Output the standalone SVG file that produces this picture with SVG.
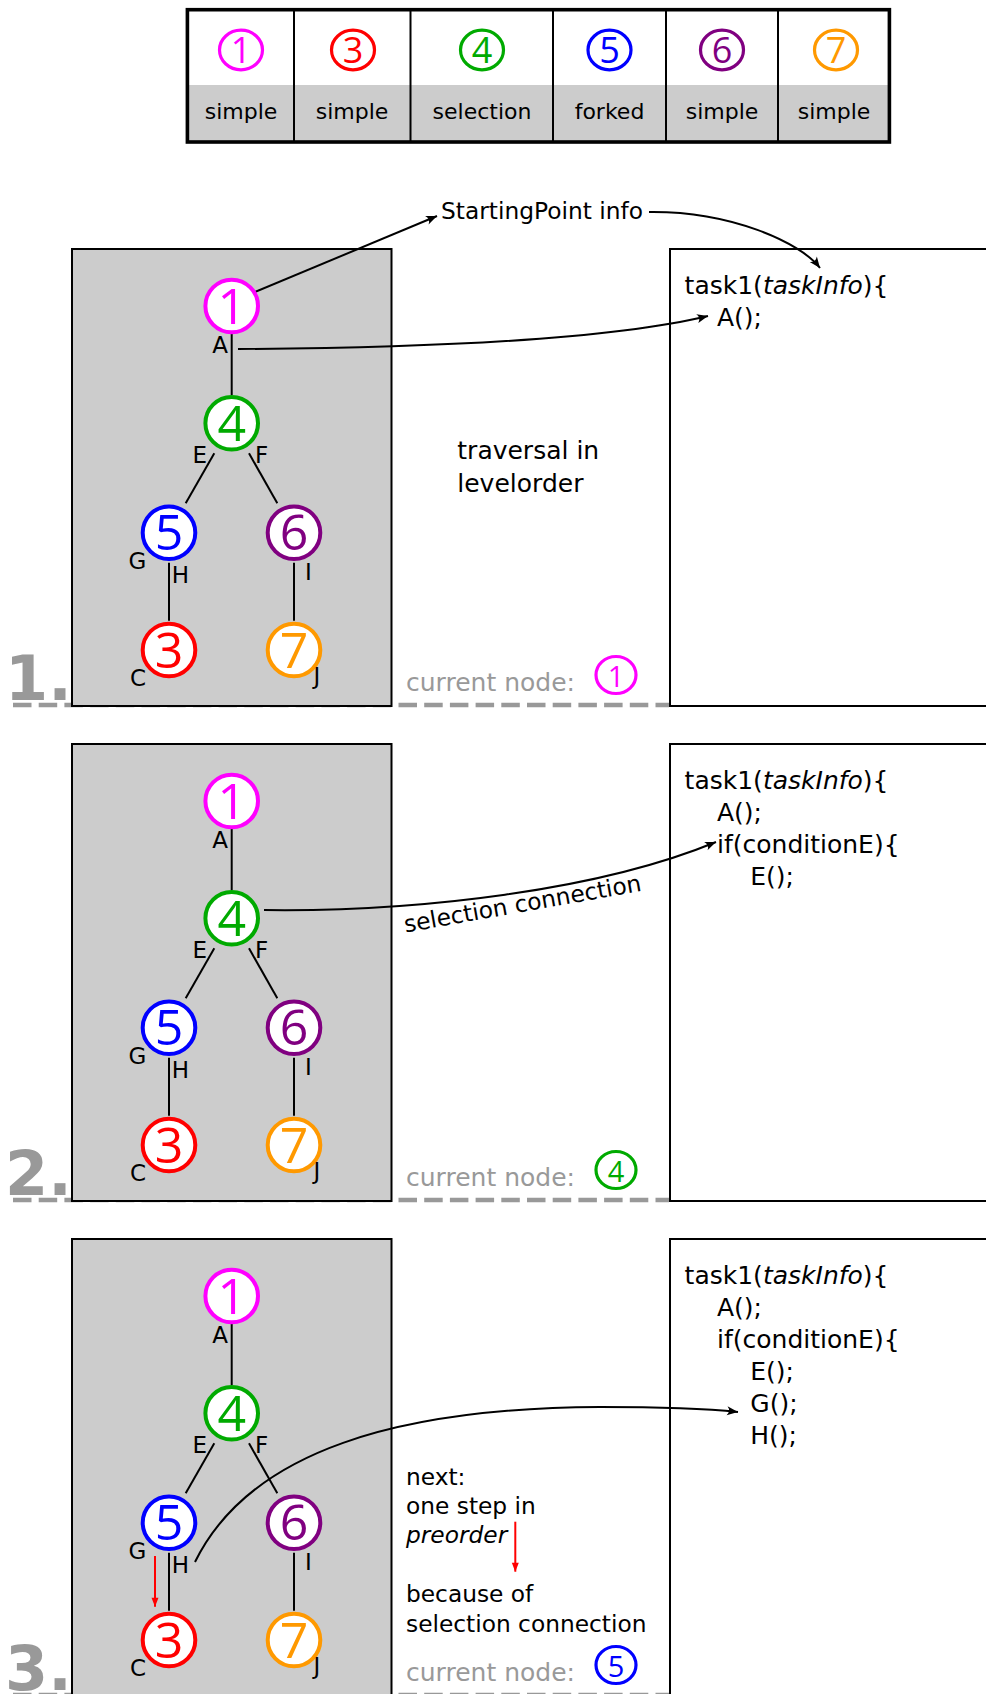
<svg xmlns="http://www.w3.org/2000/svg" width="986" height="1694" viewBox="0 0 986 1694">
<style>
  text { font-family: "DejaVu Sans", "Liberation Sans", sans-serif; fill: #000; }
  .lbl { font-size: 23px; text-anchor: middle; }
  .code { font-size: 25px; }
  .note { font-size: 25px; }
  .small { font-size: 23.3px; }
  .cur { font-size: 25px; fill: #999; }
  .step { font-size: 62px; font-weight: bold; fill: #999; }
  .cell { font-size: 22px; text-anchor: middle; }
  .dig { font-family: "Open Sans", "Liberation Sans", sans-serif; font-size: 50px; text-anchor: middle; }
  .idig { font-family: "Open Sans", "Liberation Sans", sans-serif; text-anchor: middle; }
  .ring { fill: #fff; stroke-width: 4; }
  .iring { fill: none; stroke-width: 3.2; }
  .edge { stroke: #000; stroke-width: 2; fill: none; }
  .arrow { stroke: #000; stroke-width: 2; fill: none; marker-end: url(#ah); }
  .red { stroke: #f00; stroke-width: 2; fill: none; marker-end: url(#rh); }
  .panel { fill: #ccc; stroke: #000; stroke-width: 2; }
  .codebox { fill: #fff; stroke: #000; stroke-width: 2; }
  .dash { stroke: #999; stroke-width: 4.5; stroke-dasharray: 18.5 7.2; fill: none; }
  .it { font-style: italic; }
  .mag { stroke: #ff00ff; } .mag-t { fill: #ff00ff; }
  .rd { stroke: #ff0000; } .rd-t { fill: #ff0000; }
  .gr { stroke: #00aa00; } .gr-t { fill: #00aa00; }
  .bl { stroke: #0000ff; } .bl-t { fill: #0000ff; }
  .pu { stroke: #800080; } .pu-t { fill: #800080; }
  .or { stroke: #ff9900; } .or-t { fill: #ff9900; }
</style>
<defs>
  <marker id="ah" markerUnits="userSpaceOnUse" markerWidth="14" markerHeight="12" viewBox="-12 -6 14 12" refX="0" refY="0" orient="auto" overflow="visible">
    <path d="M0,0 L-11,-4.5 Q-7,0 -11,4.5 Z" fill="#000"/>
  </marker>
  <marker id="rh" markerUnits="userSpaceOnUse" markerWidth="12" markerHeight="10" viewBox="-10 -5 11 10" refX="0" refY="0" orient="auto" overflow="visible">
    <path d="M0,0 L-9,-3.5 L-9,3.5 Z" fill="#f00"/>
  </marker>
</defs>

<rect width="986" height="1694" fill="#fff"/>

<!-- legend table: node kinds -->
<g id="legend">
  <rect x="187.4" y="85" width="702" height="57" fill="#ccc"/>
  <g stroke="#000" stroke-width="2">
    <line x1="294" y1="9.7" x2="294" y2="142"/>
    <line x1="410.5" y1="9.7" x2="410.5" y2="142"/>
    <line x1="553" y1="9.7" x2="553" y2="142"/>
    <line x1="666" y1="9.7" x2="666" y2="142"/>
    <line x1="778" y1="9.7" x2="778" y2="142"/>
  </g>
  <rect x="187.4" y="9.7" width="702" height="132.3" fill="none" stroke="#000" stroke-width="3.6"/>
  <g id="legend-1"><ellipse cx="241" cy="50" rx="21.5" ry="19.8" class="iring mag"/><text x="241" y="63" class="idig mag-t" font-size="36">1</text><text x="241" y="119" class="cell">simple</text></g>
  <g id="legend-3"><ellipse cx="353" cy="50" rx="21.5" ry="19.8" class="iring rd"/><text x="353" y="63" class="idig rd-t" font-size="36">3</text><text x="352" y="119" class="cell">simple</text></g>
  <g id="legend-4"><ellipse cx="482" cy="50" rx="21.5" ry="19.8" class="iring gr"/><text x="482" y="63" class="idig gr-t" font-size="36">4</text><text x="482" y="119" class="cell">selection</text></g>
  <g id="legend-5"><ellipse cx="609.5" cy="50" rx="21.5" ry="19.8" class="iring bl"/><text x="609.5" y="63" class="idig bl-t" font-size="36">5</text><text x="609.5" y="119" class="cell">forked</text></g>
  <g id="legend-6"><ellipse cx="722" cy="50" rx="21.5" ry="19.8" class="iring pu"/><text x="722" y="63" class="idig pu-t" font-size="36">6</text><text x="722" y="119" class="cell">simple</text></g>
  <g id="legend-7"><ellipse cx="836" cy="50" rx="21.5" ry="19.8" class="iring or"/><text x="836" y="63" class="idig or-t" font-size="36">7</text><text x="834" y="119" class="cell">simple</text></g>
</g>

<!-- step separators (under the boxes) -->
<g id="separators">
  <path class="dash" d="M13,705 H669"/>
  <path class="dash" d="M13,1200 H669"/>
  <path class="dash" d="M13,1695 H669"/>
</g>

<!-- step 1 -->
<g id="step1">
  <text x="5" y="700" class="step">1.</text>
  <rect id="tree-box-1" x="72" y="249" width="319.5" height="457" class="panel"/>
  <rect id="code-box-1" x="670" y="249" width="340" height="457" class="codebox"/>
  <text x="684.6" y="294" class="code">task1(<tspan class="it">taskInfo</tspan>){</text>
  <text x="717" y="326" class="code">A();</text>
  <text x="441" y="219.3" class="small" id="startingpoint">StartingPoint info</text>
  <text x="457.3" y="459.3" class="note">traversal in</text>
  <text x="457.3" y="491.7" class="note">levelorder</text>
  <text x="406" y="691" class="cur">current node:</text>
  <g id="cur-1"><ellipse cx="616" cy="675" rx="20" ry="18.5" class="iring mag"/><text x="616" y="687" class="idig mag-t" font-size="29">1</text></g>
</g>

<!-- step 2 -->
<g id="step2" transform="translate(0,495)">
  <text x="5" y="700" class="step">2.</text>
  <rect id="tree-box-2" x="72" y="249" width="319.5" height="457" class="panel"/>
  <rect id="code-box-2" x="670" y="249" width="340" height="457" class="codebox"/>
  <text x="684.6" y="294" class="code">task1(<tspan class="it">taskInfo</tspan>){</text>
  <text x="717" y="326" class="code">A();</text>
  <text x="717" y="358" class="code">if(conditionE){</text>
  <text x="750.3" y="390" class="code">E();</text>
  <text x="406" y="691" class="cur">current node:</text>
  <g id="cur-2"><ellipse cx="616" cy="675" rx="20" ry="18.5" class="iring gr"/><text x="616" y="687" class="idig gr-t" font-size="29">4</text></g>
</g>

<!-- step 3 -->
<g id="step3" transform="translate(0,990)">
  <text x="5" y="700" class="step">3.</text>
  <rect id="tree-box-3" x="72" y="249" width="319.5" height="457" class="panel"/>
  <rect id="code-box-3" x="670" y="249" width="340" height="457" class="codebox"/>
  <text x="684.6" y="294" class="code">task1(<tspan class="it">taskInfo</tspan>){</text>
  <text x="717" y="326" class="code">A();</text>
  <text x="717" y="358" class="code">if(conditionE){</text>
  <text x="750.3" y="390" class="code">E();</text>
  <text x="750.3" y="422" class="code">G();</text>
  <text x="750.3" y="454" class="code">H();</text>
  <text x="406" y="495" class="small">next:</text>
  <text x="406" y="524" class="small">one step in</text>
  <text x="406" y="553.3" class="small it">preorder</text>
  <text x="406" y="611.7" class="small">because of</text>
  <text x="406" y="641.7" class="small">selection connection</text>
  <text x="406" y="691" class="cur">current node:</text>
  <g id="cur-3"><ellipse cx="616" cy="675" rx="20" ry="18.5" class="iring bl"/><text x="616" y="687" class="idig bl-t" font-size="29">5</text></g>
</g>

<!-- edges and arrows -->
<g id="connectors">
  <g id="connectors-1">
    <line class="edge" x1="231.7" y1="334" x2="231.7" y2="395"/>
    <line class="edge" x1="214.3" y1="453.3" x2="185.7" y2="503.3"/>
    <line class="edge" x1="249" y1="453.3" x2="277.3" y2="503.3"/>
    <line class="edge" x1="169" y1="562.7" x2="169" y2="620.7"/>
    <line class="edge" x1="294" y1="562.7" x2="294" y2="620.7"/>
    <path class="arrow" d="M243,297 L437,216"/>
    <path class="arrow" d="M649,212 C730,211 800,242 820,268"/>
    <path class="arrow" d="M238,349 C400,348 600,342 708,316"/>
  </g>
  <g id="connectors-2" transform="translate(0,495)">
    <line class="edge" x1="231.7" y1="334" x2="231.7" y2="395"/>
    <line class="edge" x1="214.3" y1="453.3" x2="185.7" y2="503.3"/>
    <line class="edge" x1="249" y1="453.3" x2="277.3" y2="503.3"/>
    <line class="edge" x1="169" y1="562.7" x2="169" y2="620.7"/>
    <line class="edge" x1="294" y1="562.7" x2="294" y2="620.7"/>
    <path class="arrow" d="M264,415 C420,417 600,395 716,347"/>
    <text class="small" transform="translate(405.5,437.5) rotate(-10)">selection connection</text>
  </g>
  <g id="connectors-3" transform="translate(0,990)">
    <line class="edge" x1="231.7" y1="334" x2="231.7" y2="395"/>
    <line class="edge" x1="214.3" y1="453.3" x2="185.7" y2="503.3"/>
    <line class="edge" x1="249" y1="453.3" x2="277.3" y2="503.3"/>
    <line class="edge" x1="169" y1="562.7" x2="169" y2="620.7"/>
    <line class="edge" x1="294" y1="562.7" x2="294" y2="620.7"/>
    <path class="red" d="M155,566 V616.7"/>
    <path class="red" d="M515.3,531.7 V581.7"/>
  </g>
</g>

<!-- tree nodes, step 1 -->
<g id="tree-1">
  <g id="s1-node1"><circle cx="231.7" cy="306" r="26.3" class="ring mag"/><text x="231.7" y="323.5" class="dig mag-t">1</text></g>
  <g id="s1-node4"><circle cx="231.7" cy="423.3" r="26.3" class="ring gr"/><text x="231.7" y="440.8" class="dig gr-t">4</text></g>
  <g id="s1-node5"><circle cx="169" cy="532.7" r="26.3" class="ring bl"/><text x="169" y="550.2" class="dig bl-t">5</text></g>
  <g id="s1-node6"><circle cx="294" cy="532.7" r="26.3" class="ring pu"/><text x="294" y="550.2" class="dig pu-t">6</text></g>
  <g id="s1-node3"><circle cx="169" cy="650" r="26.3" class="ring rd"/><text x="169" y="667.5" class="dig rd-t">3</text></g>
  <g id="s1-node7"><circle cx="294" cy="650" r="26.3" class="ring or"/><text x="294" y="667.5" class="dig or-t">7</text></g>
  <g id="s1-labels">
    <text x="220" y="353" class="lbl">A</text>
    <text x="199.7" y="463.3" class="lbl">E</text>
    <text x="261.7" y="463.3" class="lbl">F</text>
    <text x="137.5" y="569.3" class="lbl">G</text>
    <text x="180.5" y="582.7" class="lbl">H</text>
    <text x="308.3" y="580" class="lbl">I</text>
    <text x="138" y="685.7" class="lbl">C</text>
    <text x="317" y="683.7" class="lbl">J</text>
  </g>
</g>

<!-- tree nodes, step 2 -->
<g id="tree-2" transform="translate(0,495)">
  <g id="s2-node1"><circle cx="231.7" cy="306" r="26.3" class="ring mag"/><text x="231.7" y="323.5" class="dig mag-t">1</text></g>
  <g id="s2-node4"><circle cx="231.7" cy="423.3" r="26.3" class="ring gr"/><text x="231.7" y="440.8" class="dig gr-t">4</text></g>
  <g id="s2-node5"><circle cx="169" cy="532.7" r="26.3" class="ring bl"/><text x="169" y="550.2" class="dig bl-t">5</text></g>
  <g id="s2-node6"><circle cx="294" cy="532.7" r="26.3" class="ring pu"/><text x="294" y="550.2" class="dig pu-t">6</text></g>
  <g id="s2-node3"><circle cx="169" cy="650" r="26.3" class="ring rd"/><text x="169" y="667.5" class="dig rd-t">3</text></g>
  <g id="s2-node7"><circle cx="294" cy="650" r="26.3" class="ring or"/><text x="294" y="667.5" class="dig or-t">7</text></g>
  <g id="s2-labels">
    <text x="220" y="353" class="lbl">A</text>
    <text x="199.7" y="463.3" class="lbl">E</text>
    <text x="261.7" y="463.3" class="lbl">F</text>
    <text x="137.5" y="569.3" class="lbl">G</text>
    <text x="180.5" y="582.7" class="lbl">H</text>
    <text x="308.3" y="580" class="lbl">I</text>
    <text x="138" y="685.7" class="lbl">C</text>
    <text x="317" y="683.7" class="lbl">J</text>
  </g>
</g>

<!-- tree nodes, step 3 -->
<g id="tree-3" transform="translate(0,990)">
  <g id="s3-node1"><circle cx="231.7" cy="306" r="26.3" class="ring mag"/><text x="231.7" y="323.5" class="dig mag-t">1</text></g>
  <g id="s3-node4"><circle cx="231.7" cy="423.3" r="26.3" class="ring gr"/><text x="231.7" y="440.8" class="dig gr-t">4</text></g>
  <g id="s3-node5"><circle cx="169" cy="532.7" r="26.3" class="ring bl"/><text x="169" y="550.2" class="dig bl-t">5</text></g>
  <g id="s3-node6"><circle cx="294" cy="532.7" r="26.3" class="ring pu"/><text x="294" y="550.2" class="dig pu-t">6</text></g>
  <g id="s3-node3"><circle cx="169" cy="650" r="26.3" class="ring rd"/><text x="169" y="667.5" class="dig rd-t">3</text></g>
  <g id="s3-node7"><circle cx="294" cy="650" r="26.3" class="ring or"/><text x="294" y="667.5" class="dig or-t">7</text></g>
  <g id="s3-labels">
    <text x="220" y="353" class="lbl">A</text>
    <text x="199.7" y="463.3" class="lbl">E</text>
    <text x="261.7" y="463.3" class="lbl">F</text>
    <text x="137.5" y="569.3" class="lbl">G</text>
    <text x="180.5" y="582.7" class="lbl">H</text>
    <text x="308.3" y="580" class="lbl">I</text>
    <text x="138" y="685.7" class="lbl">C</text>
    <text x="317" y="683.7" class="lbl">J</text>
  </g>
  <!-- jump from H into the code listing, drawn over the tree -->
  <path class="arrow" d="M195,572 C250,460 400,418 600,417 C660,417 710,419 738,422"/>
</g>
</svg>
